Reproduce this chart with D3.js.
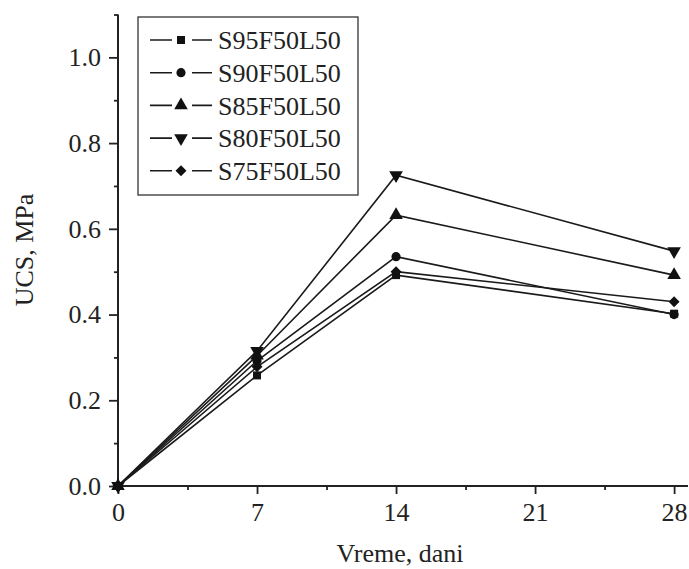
<!DOCTYPE html>
<html>
<head>
<meta charset="utf-8">
<script src="https://cdn.jsdelivr.net/npm/d3@7"></script>
<style>
  html, body { margin: 0; padding: 0; background: #fff; }
  svg { display: block; }
  text { font-family: "Liberation Serif", "Times New Roman", serif; fill: #222; }
</style>
</head>
<body>
<svg id="chart" width="689" height="569"></svg>
<script>
// ---- data ----
const days = [0, 7, 14, 28];
const seriesNames = ["S95F50L50", "S90F50L50", "S85F50L50", "S80F50L50", "S75F50L50"];
const s95 = [0, 0.258, 0.492, 0.402];
const s90 = [0, 0.292, 0.535, 0.400];
const s85 = [0, 0.304, 0.632, 0.492];
const s80 = [0, 0.315, 0.725, 0.548];
const s75 = [0, 0.278, 0.500, 0.430];
const seriesValues = [s95, s90, s85, s80, s75];
const xTicks = [0, 7, 14, 21, 28];
const xMinorTicks = [3.5, 10.5, 17.5, 24.5];
const yTicks = [0.0, 0.2, 0.4, 0.6, 0.8, 1.0];
const yMinorTicks = [0.1, 0.3, 0.5, 0.7, 0.9, 1.1];
const xTitle = "Vreme, dani";
const yTitle = "UCS, MPa";

// ---- layout ----
const svg = d3.select("#chart");
const x = d3.scaleLinear().domain([0, 28.7]).range([118, 688]);
const y = d3.scaleLinear().domain([0, 1.1]).range([486, 14.5]);

// symbols
const symbols = [
  {type: d3.symbolSquare, size: 64, rot: 0},
  {type: d3.symbolCircle, size: 66, rot: 0},
  {type: d3.symbolTriangle, size: 80, rot: 0},
  {type: d3.symbolTriangle, size: 80, rot: 180},
  {type: d3.symbolSquare, size: 60, rot: 45}
];
const symPath = i => d3.symbol().type(symbols[i].type).size(symbols[i].size)();

// axes
const fontSize = 26;
const xAxis = svg.append("g").attr("transform", `translate(0,${y(0)})`)
  .call(d3.axisBottom(x).tickValues(xTicks).tickSize(8).tickPadding(9).tickFormat(d3.format("d")));
const xAxisMinor = svg.append("g").attr("transform", `translate(0,${y(0)})`)
  .call(d3.axisBottom(x).tickValues(xMinorTicks).tickSize(4).tickFormat(""));
const yAxis = svg.append("g").attr("transform", `translate(${x(0)},0)`)
  .call(d3.axisLeft(y).tickValues(yTicks).tickSize(9).tickPadding(8).tickFormat(d3.format(".1f")));
const yAxisMinor = svg.append("g").attr("transform", `translate(${x(0)},0)`)
  .call(d3.axisLeft(y).tickValues(yMinorTicks).tickSize(4).tickFormat(""));

[xAxis, xAxisMinor, yAxis, yAxisMinor].forEach(g => {
  g.select(".domain").attr("stroke", "#222").attr("stroke-width", 2);
  g.selectAll(".tick line").attr("stroke", "#222").attr("stroke-width", 1.8);
  g.selectAll("text").attr("font-size", fontSize)
    .attr("font-family", '"Liberation Serif", "Times New Roman", serif').attr("fill", "#222");
});
xAxis.select(".domain").attr("d", `M${x(0)},0H${x(28.7)}`);
xAxisMinor.select(".domain").remove();
yAxis.select(".domain").attr("d", `M0,${y(0)}V${y(1.1)}`);
yAxisMinor.select(".domain").remove();

// titles
svg.append("text").attr("x", 400).attr("y", 562).attr("text-anchor", "middle")
  .attr("font-size", fontSize).text(xTitle);
svg.append("text").attr("transform", `translate(33,${250}) rotate(-90)`)
  .attr("text-anchor", "middle").attr("font-size", fontSize).text(yTitle);

// lines
const line = d3.line().x((d, i) => x(days[i])).y(d => y(d));
seriesValues.forEach((vals, si) => {
  svg.append("path").datum(vals).attr("d", line)
    .attr("fill", "none").attr("stroke", "#1a1a1a").attr("stroke-width", 1.6);
});
seriesValues.forEach((vals, si) => {
  svg.append("g").selectAll("path").data(vals).join("path")
    .attr("d", symPath(si))
    .attr("transform", (d, i) => `translate(${x(days[i])},${y(d)}) rotate(${symbols[si].rot})`)
    .attr("fill", "#111");
});

// legend
const lg = svg.append("g");
lg.append("rect").attr("x", 138).attr("y", 17).attr("width", 220).attr("height", 178)
  .attr("fill", "#fff").attr("stroke", "#333").attr("stroke-width", 1.3);
seriesNames.forEach((name, i) => {
  const cy = 40 + i * 32.7;
  lg.append("line").attr("x1", 150).attr("x2", 212).attr("y1", cy).attr("y2", cy)
    .attr("stroke", "#1a1a1a").attr("stroke-width", 1.6);
  lg.append("rect").attr("x", 172).attr("y", cy - 8).attr("width", 20).attr("height", 16).attr("fill", "#fff");
  lg.append("path").attr("d", symPath(i))
    .attr("transform", `translate(181,${cy}) rotate(${symbols[i].rot})`).attr("fill", "#111");
  lg.append("text").attr("x", 218).attr("y", cy).attr("dy", "0.35em")
    .attr("font-size", fontSize).text(name);
});
</script>
</body>
</html>
